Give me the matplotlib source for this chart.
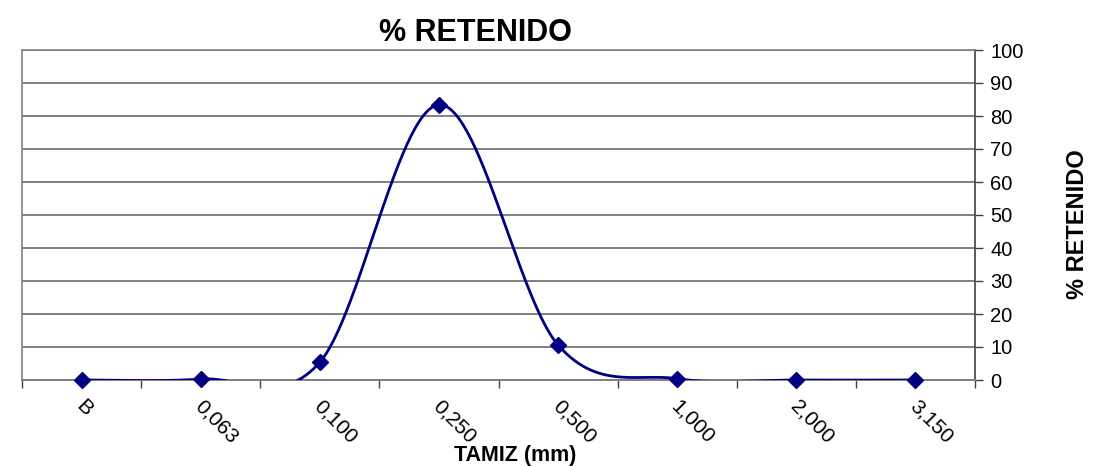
import numpy as np
import matplotlib
matplotlib.use("Agg")
import matplotlib.pyplot as plt
import matplotlib.transforms as mtransforms

plt.rcParams['font.family'] = ['Liberation Sans', 'DejaVu Sans']

categories = ["B", "0,063", "0,100", "0,250", "0,500", "1,000", "2,000", "3,150"]
retenido = [0.0, 0.3, 5.4, 83.4, 10.6, 0.4, 0.0, 0.0]

W, H = 1093, 467
fig = plt.figure(figsize=(W / 100, H / 100), dpi=100)
L, R, T, B = 22, 975, 50, 380
ax = fig.add_axes([L / W, 1 - B / H, (R - L) / W, (B - T) / H])

x = np.arange(len(categories), dtype=float)
y = np.array(retenido, dtype=float)

# Excel-like smoothed line (Catmull-Rom / Bezier)
def smooth(xp, yp, n=60):
    px = np.concatenate([[xp[0]], xp, [xp[-1]]])
    py = np.concatenate([[yp[0]], yp, [yp[-1]]])
    xs, ys = [], []
    t = np.linspace(0, 1, n)
    for i in range(1, len(px) - 2):
        p0 = np.array([px[i - 1], py[i - 1]])
        p1 = np.array([px[i], py[i]])
        p2 = np.array([px[i + 1], py[i + 1]])
        p3 = np.array([px[i + 2], py[i + 2]])
        c1 = p1 + (p2 - p0) / 6
        c2 = p2 - (p3 - p1) / 6
        pts = ((1 - t)[:, None] ** 3 * p1 + 3 * ((1 - t) ** 2 * t)[:, None] * c1
               + 3 * ((1 - t) * t ** 2)[:, None] * c2 + (t ** 3)[:, None] * p2)
        xs.extend(pts[:, 0]); ys.extend(pts[:, 1])
    return np.array(xs), np.array(ys)

sx, sy = smooth(x, y)
ax.plot(sx, sy, color='#000080', lw=2.0, zorder=3, clip_on=True)
ax.plot(x, y, linestyle='none', marker='D', ms=8, color='#000080', zorder=4, clip_on=False)

ax.set_xlim(-0.5, len(categories) - 0.5)
ax.set_ylim(0, 100)
ax.yaxis.tick_right()
ax.yaxis.set_label_position('right')
ax.set_yticks(np.arange(0, 101, 10))
ax.tick_params(axis='y', which='major', labelsize=14.5, length=6, width=1, color='#404040', pad=5, direction='out')
ax.set_xticks(np.arange(-0.5, len(categories) - 0.4, 1.0))
ax.set_xticklabels([])
ax.tick_params(axis='x', which='major', length=6, width=1, color='#404040', direction='out')
ax.set_xticks(x, minor=True)
ax.set_xticklabels(categories, minor=True, rotation=-45, ha='left', va='top', rotation_mode='anchor', fontsize=15)
ax.tick_params(axis='x', which='minor', length=0, pad=12)
offset = mtransforms.ScaledTranslation(4 / 100, 0, fig.dpi_scale_trans)
for lab in ax.get_xticklabels(minor=True):
    lab.set_transform(lab.get_transform() + offset)

ax.grid(axis='y', color='#808080', lw=1.4)
for s in ['top', 'left']:
    ax.spines[s].set_color('#808080')
    ax.spines[s].set_linewidth(1.2)
ax.spines['right'].set_color('#404040')
ax.spines['bottom'].set_color('#808080')
ax.spines['right'].set_linewidth(1.2)
ax.spines['bottom'].set_linewidth(1.4)

fig.text(475 / W, 1 - 33 / H, "% RETENIDO", ha='center', va='center', fontsize=22, fontweight='bold')
fig.text(515 / W, 1 - 455 / H, "TAMIZ (mm)", ha='center', va='center', fontsize=15.5, fontweight='bold')
fig.text(1078 / W, 1 - 224 / H, "% RETENIDO", ha='center', va='center', rotation=90, fontsize=17, fontweight='bold')

fig.savefig("out.png", dpi=100)
